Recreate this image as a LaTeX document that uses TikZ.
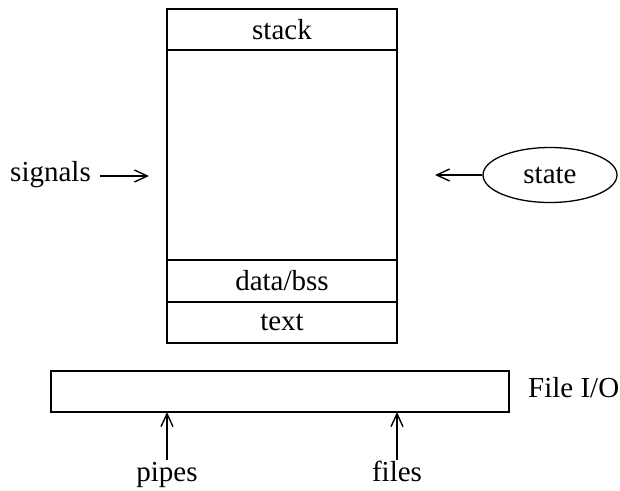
\documentclass[tikz,border=0pt]{standalone}
\usepackage{fontspec}
\setmainfont{Liberation Serif}
\usetikzlibrary{arrows.meta,shapes.geometric}
\begin{document}
\begin{tikzpicture}[x=1pt,y=-1pt,
  lbl/.style={inner sep=0pt,font=\fontsize{29}{35}\selectfont},
  seg/.style={draw,line width=1.3pt,minimum width=230pt,inner sep=0pt,outer sep=0pt},
  conn/.style={line width=1.1pt,-{Straight Barb[length=13pt,width=12pt,line width=1.4pt]}}]
  \useasboundingbox (0,0) rectangle (620,490);
  % process image: stack, free space, data/bss, text
  \node[seg,minimum height=41pt,anchor=north west,lbl] (stack) at (167,9) {stack};
  \node[seg,minimum height=210pt,anchor=north west] (heap) at (167,50) {};
  \node[seg,minimum height=42pt,anchor=north west,lbl] (data) at (167,260) {data/bss};
  \node[seg,minimum height=41pt,anchor=north west,lbl] (text) at (167,302) {text};
  % signals coming in from the left, state on the right
  \node[lbl,anchor=east] (signals) at (91,175) {signals};
  \coordinate (sigstart) at (100,176);
  \coordinate (sigend) at (149,176);
  \draw[conn] (sigstart) -- (sigend);
  \node[draw,ellipse,line width=1.3pt,minimum width=134pt,minimum height=55pt,lbl] (state) at (550,175) {state};
  \coordinate (stend) at (435,175);
  \draw[conn] (state.west) -- (stend);
  % file I/O bar with pipes and files below
  \node[draw,line width=1.3pt,minimum width=458pt,minimum height=41pt,anchor=north west,inner sep=0pt,outer sep=0pt] (fio) at (51,371) {};
  \node[lbl,anchor=base west] (fiolbl) at (528,397) {File I/O};
  \node[lbl,anchor=base] (pipes) at (167,481) {pipes};
  \node[lbl,anchor=base] (files) at (397,481) {files};
  \coordinate (pipestart) at (167,460);
  \coordinate (filestart) at (397,460);
  \draw[conn] (pipestart) -- (pipestart |- fio.south);
  \draw[conn] (filestart) -- (filestart |- fio.south);
\end{tikzpicture}
\end{document}
